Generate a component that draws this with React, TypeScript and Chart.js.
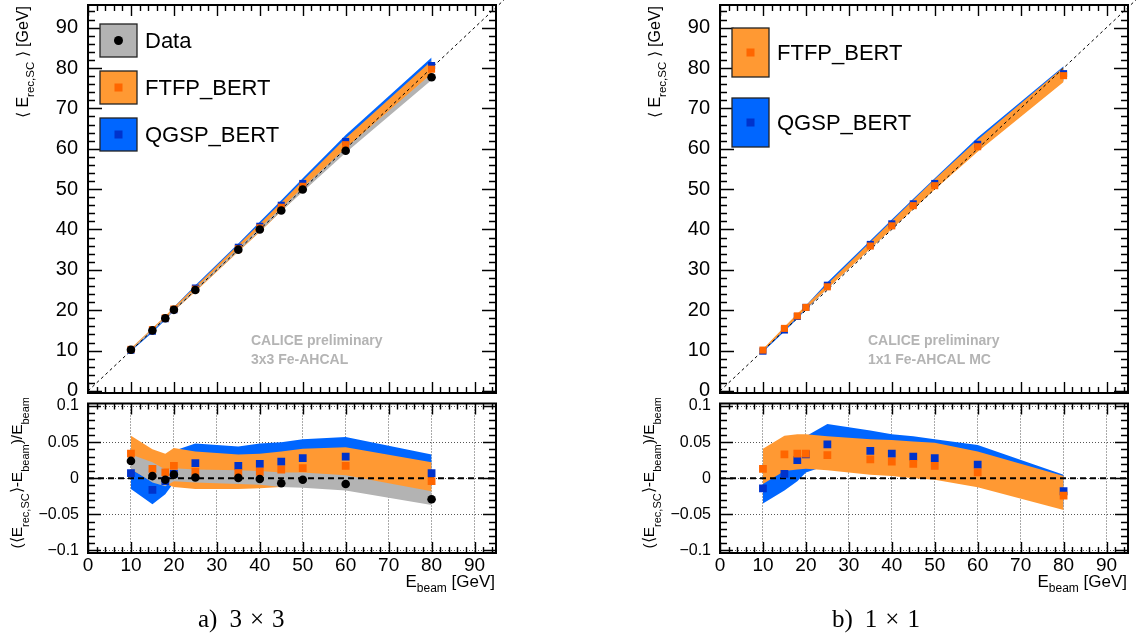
import React, { useEffect, useRef } from "react";
import { Chart, registerables } from "chart.js";
Chart.register(...registerables);

// ---------------- data ----------------
const beamEnergies = [10, 15, 18, 20, 25, 35, 40, 45, 50, 60, 80];

// a) 3x3 : mean reconstructed energy [GeV]
const data3Mean = [10.2, 15.0, 18.0, 20.1, 25.0, 35.0, 40.0, 44.7, 49.9, 59.5, 77.7];
const data3High = [10.33, 15.33, 18.2, 20.3, 25.3, 35.4, 40.4, 45.4, 50.4, 60.2, 78.6];
const data3Low = [10.13, 14.9, 17.8, 19.9, 24.85, 34.7, 39.6, 44.5, 49.35, 59.0, 77.0];
const ftfp3Mean = [10.3, 15.2, 18.1, 20.3, 25.2, 35.2, 40.4, 45.5, 50.7, 61.0, 79.7];
const ftfp3High = [10.6, 15.6, 18.6, 20.8, 25.9, 36.2, 41.4, 46.7, 52.1, 62.6, 81.8];
const ftfp3Low = [10.05, 14.9, 17.9, 19.8, 24.6, 34.5, 39.4, 44.5, 49.5, 59.5, 78.5];
const qgsp3Mean = [10.1, 14.8, 17.9, 20.1, 25.5, 35.6, 40.8, 46.0, 51.4, 61.8, 80.6];
const qgsp3High = [10.2, 15.15, 18.2, 20.8, 26.2, 36.5, 41.9, 47.25, 52.7, 63.4, 82.6];
const qgsp3Low = [9.85, 14.46, 17.6, 19.9, 24.75, 34.65, 39.7, 44.7, 49.8, 59.8, 79.0];

// a) 3x3 : relative deviation
const data3Ratio = [0.024, 0.003, -0.002, 0.005, 0.001, 0.0005, -0.001, -0.007, -0.002, -0.008, -0.029];
const data3RatioHigh = [0.033, 0.022, 0.012, 0.014, 0.012, 0.011, 0.010, 0.008, 0.008, 0.004, -0.018];
const data3RatioLow = [0.013, -0.006, -0.011, -0.004, -0.006, -0.008, -0.009, -0.012, -0.013, -0.017, -0.037];
const ftfp3Ratio = [0.034, 0.013, 0.008, 0.017, 0.009, 0.007, 0.009, 0.012, 0.014, 0.017, -0.004];
const ftfp3RatioHigh = [0.059, 0.040, 0.034, 0.042, 0.037, 0.033, 0.034, 0.037, 0.041, 0.043, 0.022];
const ftfp3RatioLow = [0.012, -0.004, -0.008, -0.012, -0.015, -0.015, -0.014, -0.012, -0.011, -0.009, -0.019];
const qgsp3Ratio = [0.007, -0.016, -0.004, 0.006, 0.021, 0.017, 0.020, 0.023, 0.028, 0.030, 0.007];
const qgsp3RatioHigh = [0.020, 0.010, 0.012, 0.038, 0.048, 0.044, 0.048, 0.050, 0.054, 0.057, 0.033];
const qgsp3RatioLow = [-0.015, -0.036, -0.022, -0.006, -0.010, -0.010, -0.008, -0.006, -0.004, -0.003, -0.012];

// b) 1x1 : mean reconstructed energy [GeV]
const ftfp1Mean = [10.13, 15.5, 18.6, 20.7, 25.8, 35.9, 40.9, 45.9, 50.85, 60.5, 78.1];
const ftfp1High = [10.41, 15.9, 19.1, 21.2, 26.45, 36.9, 42.1, 47.3, 52.45, 62.2, 80.2];
const ftfp1Low = [9.92, 15.15, 18.2, 20.3, 25.3, 35.2, 40.1, 45.0, 49.9, 59.25, 76.5];
const qgsp1Mean = [9.86, 15.1, 18.45, 20.7, 26.2, 36.3, 41.4, 46.35, 51.4, 61.1, 78.6];
const qgsp1High = [10.05, 15.45, 18.8, 21.15, 26.9, 37.3, 42.45, 47.6, 52.7, 62.8, 80.4];
const qgsp1Low = [9.65, 14.75, 17.9, 20.15, 25.45, 35.4, 40.35, 45.3, 50.15, 59.7, 76.8];

// b) 1x1 : relative deviation
const ftfp1Ratio = [0.013, 0.033, 0.034, 0.034, 0.032, 0.026, 0.023, 0.020, 0.017, 0.008, -0.024];
const ftfp1RatioHigh = [0.041, 0.059, 0.061, 0.061, 0.058, 0.054, 0.053, 0.051, 0.049, 0.037, 0.003];
const ftfp1RatioLow = [-0.008, 0.010, 0.012, 0.013, 0.011, 0.005, 0.003, 0.000, -0.002, -0.0125, -0.044];
const qgsp1Ratio = [-0.014, 0.006, 0.025, 0.033, 0.047, 0.038, 0.034, 0.030, 0.028, 0.019, -0.018];
const qgsp1RatioHigh = [0.005, 0.030, 0.045, 0.058, 0.075, 0.066, 0.061, 0.058, 0.054, 0.046, 0.005];
const qgsp1RatioLow = [-0.035, -0.017, -0.004, 0.008, 0.018, 0.012, 0.009, 0.006, 0.003, -0.005, -0.040];

// reference lines
const diagonalX = [0, 97]; // E_rec = E_beam
const zeroLineX = [0, 95];

// axes
const xRange = [0, 95];
const mainYRange = [-0.5, 95.6];
const ratioYRange = [-0.1035, 0.1035];
const xTickValues = [0, 10, 20, 30, 40, 50, 60, 70, 80, 90];
const xTickLabels = ["0", "10", "20", "30", "40", "50", "60", "70", "80", "90"];
const mainYTickValues = [0, 10, 20, 30, 40, 50, 60, 70, 80, 90];
const mainYTickLabels = ["0", "10", "20", "30", "40", "50", "60", "70", "80", "90"];
const ratioYTickValues = [-0.1, -0.05, 0, 0.05, 0.1];
const ratioYTickLabels = ["\u22120.1", "\u22120.05", "0", "0.05", "0.1"];

const legend3 = ["Data", "FTFP_BERT", "QGSP_BERT"];
const legend1 = ["FTFP_BERT", "QGSP_BERT"];

// ---------------- style ----------------
const FONT = "'Liberation Sans', Arial, Helvetica, sans-serif";
const SERIF = "'Liberation Serif', 'DejaVu Serif', serif";
const GRAY_BAND = "#b3b3b3";
const ORANGE_BAND = "#ff9933";
const ORANGE_MARK = "#ff6600";
const BLUE_BAND = "#0066ff";
const BLUE_MARK = "#0033cc";

const minorTicks = (a: number, b: number, step: number) => {
  const out: number[] = [];
  const n = Math.round((b - a) / step);
  for (let i = 0; i <= n; i++) out.push(+(a + i * step).toFixed(6));
  return out;
};

// ---------------- helpers ----------------
const pts = (ys: number[]) => beamEnergies.map((e, i) => ({ x: e, y: ys[i] }));

function band(high: number[], low: number[], color: string, order: number) {
  return [
    { data: pts(high), fill: "+1", backgroundColor: color, borderColor: "rgba(0,0,0,0)", borderWidth: 0, pointRadius: 0, order },
    { data: pts(low), fill: false, backgroundColor: color, borderColor: "rgba(0,0,0,0)", borderWidth: 0, pointRadius: 0, order },
  ];
}

function markers(ys: number[], color: string, style: string, radius: number, order: number) {
  return {
    data: pts(ys), showLine: false, fill: false, pointStyle: style, pointRadius: radius,
    pointBackgroundColor: color, pointBorderColor: color, pointBorderWidth: 0, order,
  };
}

type Seg = { t: string; sub?: boolean };
function drawRich(ctx: CanvasRenderingContext2D, segs: Seg[], x: number, y: number,
  o: { size: number; subSize: number; subDrop: number; align: "left" | "right"; rotate?: boolean; color?: string; weight?: string; family?: string }) {
  ctx.save();
  ctx.translate(x, y);
  if (o.rotate) ctx.rotate(-Math.PI / 2);
  ctx.fillStyle = o.color || "#000";
  ctx.textBaseline = "alphabetic";
  ctx.textAlign = "left";
  const fam = o.family || FONT;
  const f = (s: Seg) => `${o.weight || "normal"} ${s.sub ? o.subSize : o.size}px ${fam}`;
  let total = 0;
  const ws = segs.map((s) => { ctx.font = f(s); const w = ctx.measureText(s.t).width; total += w; return w; });
  let cx = o.align === "right" ? -total : 0;
  segs.forEach((s, i) => { ctx.font = f(s); ctx.fillText(s.t, cx, s.sub ? o.subDrop : 0); cx += ws[i]; });
  ctx.restore();
}

function framePlugin(yMinor: number[], yMajorLen: number, yMinorLen: number) {
  const xMinor = minorTicks(0, 94, 2);
  return {
    id: "rootFrame",
    afterDatasetsDraw(chart: any) {
      const { ctx, chartArea: a } = chart;
      const xs = chart.scales.x, ys = chart.scales.y;
      ctx.save();
      ctx.strokeStyle = "#000";
      ctx.lineWidth = 1.4;
      ctx.beginPath();
      const tx = (vals: number[], len: number) => vals.forEach((v) => {
        const p = Math.round(xs.getPixelForValue(v)) + 0.5;
        if (p < a.left - 1 || p > a.right + 1) return;
        ctx.moveTo(p, a.bottom); ctx.lineTo(p, a.bottom - len);
        ctx.moveTo(p, a.top); ctx.lineTo(p, a.top + len);
      });
      const ty = (vals: number[], len: number) => vals.forEach((v) => {
        const p = Math.round(ys.getPixelForValue(v)) + 0.5;
        if (p < a.top - 1 || p > a.bottom + 1) return;
        ctx.moveTo(a.left, p); ctx.lineTo(a.left + len, p);
        ctx.moveTo(a.right, p); ctx.lineTo(a.right - len, p);
      });
      tx(xTickValues, 11); tx(xMinor, 6);
      ty(chart.options.scales.y._major, yMajorLen); ty(yMinor, yMinorLen);
      ctx.stroke();
      ctx.lineWidth = 2;
      ctx.strokeRect(a.left, a.top, a.right - a.left, a.bottom - a.top);
      ctx.restore();
    },
  };
}

function overlay(draw: (ctx: CanvasRenderingContext2D) => void) {
  return { id: "overlay", afterDraw(chart: any) { draw(chart.ctx); } };
}

function xScale(display: boolean) {
  return {
    type: "linear", min: xRange[0], max: xRange[1], bounds: "data", display,
    afterBuildTicks: (s: any) => { s.ticks = xTickValues.map((v) => ({ value: v })); },
    afterFit: (s: any) => { s.height = display ? 86 : 0; s.paddingLeft = 0; s.paddingRight = 0; },
    ticks: { autoSkip: false, maxRotation: 0, minRotation: 0, padding: 1, color: "#000",
      font: { family: FONT, size: 19 }, callback: (_v: any, i: number) => xTickLabels[i] },
    grid: { display: true, drawTicks: false, color: "#555", lineWidth: 1 },
    border: { display: false, dash: [1, 2] },
  };
}

function yScale(kind: "main" | "ratio") {
  const vals = kind === "main" ? mainYTickValues : ratioYTickValues;
  const labels = kind === "main" ? mainYTickLabels : ratioYTickLabels;
  const range = kind === "main" ? mainYRange : ratioYRange;
  return {
    type: "linear", min: range[0], max: range[1], bounds: "data", _major: vals,
    afterBuildTicks: (s: any) => { s.ticks = vals.map((v) => ({ value: v })); },
    afterFit: (s: any) => { s.width = 88; s.paddingTop = 0; s.paddingBottom = 0; },
    ticks: { autoSkip: false, padding: kind === "main" ? 10 : 9, color: "#000",
      font: { family: FONT, size: kind === "main" ? 20 : 16 }, callback: (_v: any, i: number) => labels[i] },
    grid: { display: kind === "ratio", drawTicks: false, color: "#555", lineWidth: 1 },
    border: { display: false, dash: [1, 2] },
  };
}

const baseOptions = (padRight: number, padTop: number, scales: any) => ({
  responsive: false, animation: false, events: [],
  layout: { padding: { left: 0, top: padTop, right: padRight, bottom: 0 } },
  plugins: { legend: { display: false }, tooltip: { enabled: false } },
  scales,
});

// ---------------- text drawers ----------------
function drawMainTitle(ctx: CanvasRenderingContext2D) {
  drawRich(ctx, [{ t: "\u27E8 E" }, { t: "rec,SC", sub: true }, { t: " \u27E9 [GeV]" }], 28, 6,
    { size: 16, subSize: 11.5, subDrop: 6, align: "right", rotate: true });
}
function drawRatioTitles(ctx: CanvasRenderingContext2D) {
  drawRich(ctx, [{ t: "(\u27E8E" }, { t: "rec,SC", sub: true }, { t: "\u27E9-E" }, { t: "beam", sub: true },
    { t: ")/E" }, { t: "beam", sub: true }], 22, -1,
    { size: 15.5, subSize: 11, subDrop: 7, align: "right", rotate: true });
  drawRich(ctx, [{ t: "E" }, { t: "beam", sub: true }, { t: " [GeV]" }], 495, 189,
    { size: 17, subSize: 12, subDrop: 5, align: "right" });
}
function drawCaption(ctx: CanvasRenderingContext2D, x: number, a: string, n: string) {
  ctx.save();
  ctx.fillStyle = "#000";
  ctx.textBaseline = "alphabetic";
  ctx.font = `25px ${SERIF}`;
  let cx = x;
  const put = (s: string, gap: number) => { ctx.fillText(s, cx, 229); cx += ctx.measureText(s).width + gap; };
  put(a, 12); put(n, 8); put("\u00D7", 8); put(n, 0);
  ctx.restore();
}
function drawCalice(ctx: CanvasRenderingContext2D, x: number, line2: string) {
  ctx.save();
  ctx.fillStyle = "#b4b4b4";
  ctx.font = `bold 14px ${FONT}`;
  ctx.textBaseline = "alphabetic";
  ctx.fillText("CALICE preliminary", x, 345);
  ctx.fillText(line2, x, 364);
  ctx.restore();
}
type LegendEntry = { label: string; fill: string; mark: string; markColor: string; y0: number; y1: number };
function drawLegend(ctx: CanvasRenderingContext2D, entries: LegendEntry[]) {
  ctx.save();
  entries.forEach((e) => {
    ctx.fillStyle = e.fill;
    ctx.fillRect(100, e.y0, 37, e.y1 - e.y0);
    ctx.strokeStyle = "#222";
    ctx.lineWidth = 1.3;
    ctx.strokeRect(100, e.y0, 37, e.y1 - e.y0);
    const cy = (e.y0 + e.y1) / 2;
    ctx.fillStyle = e.markColor;
    if (e.mark === "circle") { ctx.beginPath(); ctx.arc(118.5, cy, 4.5, 0, Math.PI * 2); ctx.fill(); }
    else ctx.fillRect(114.5, cy - 4, 8, 8);
    ctx.fillStyle = "#000";
    ctx.font = `22px ${FONT}`;
    ctx.textBaseline = "middle";
    ctx.fillText(e.label, 145, cy + 1);
  });
  ctx.restore();
}

// ---------------- configs ----------------
const ratioMinor = minorTicks(-0.1, 0.1, 0.01);
const mainMinor = minorTicks(0, 94, 2);

function main3Config() {
  return {
    type: "line",
    data: {
      datasets: [
        ...band(qgsp3High, qgsp3Low, BLUE_BAND, 10),
        ...band(ftfp3High, ftfp3Low, ORANGE_BAND, 9),
        ...band(data3High, data3Low, GRAY_BAND, 8),
        { data: diagonalX.map((v) => ({ x: v, y: v })), borderColor: "#000", borderWidth: 1, borderDash: [3, 3], pointRadius: 0, fill: false, order: 5, clip: false },
        markers(qgsp3Mean, BLUE_MARK, "rect", 5, 3),
        markers(ftfp3Mean, ORANGE_MARK, "rect", 5, 2),
        markers(data3Mean, "#000", "circle", 4.3, 1),
      ],
    },
    options: baseOptions(14, 5, { x: xScale(false), y: yScale("main") }),
    plugins: [
      framePlugin(mainMinor, 14, 7),
      overlay((ctx) => {
        drawMainTitle(ctx);
        drawLegend(ctx, [
          { label: legend3[0], fill: GRAY_BAND, mark: "circle", markColor: "#000", y0: 24, y1: 57 },
          { label: legend3[1], fill: ORANGE_BAND, mark: "rect", markColor: ORANGE_MARK, y0: 71, y1: 104 },
          { label: legend3[2], fill: BLUE_BAND, mark: "rect", markColor: BLUE_MARK, y0: 118, y1: 151 },
        ]);
        drawCalice(ctx, 251, "3x3 Fe-AHCAL");
      }),
    ],
  };
}

function ratio3Config() {
  return {
    type: "line",
    data: {
      datasets: [
        ...band(qgsp3RatioHigh, qgsp3RatioLow, BLUE_BAND, 10),
        ...band(ftfp3RatioHigh, ftfp3RatioLow, ORANGE_BAND, 9),
        ...band(data3RatioHigh, data3RatioLow, GRAY_BAND, 8),
        { data: zeroLineX.map((v) => ({ x: v, y: 0 })), borderColor: "#000", borderWidth: 2, borderDash: [6, 4], pointRadius: 0, fill: false, order: 5 },
        markers(qgsp3Ratio, BLUE_MARK, "rect", 5.5, 3),
        markers(ftfp3Ratio, ORANGE_MARK, "rect", 5.5, 2),
        markers(data3Ratio, "#000", "circle", 4.3, 1),
      ],
    },
    options: baseOptions(14, 0, { x: xScale(true), y: yScale("ratio") }),
    plugins: [
      framePlugin(ratioMinor, 13, 7),
      overlay((ctx) => { drawRatioTitles(ctx); drawCaption(ctx, 198, "a)", "3"); }),
    ],
  };
}

function main1Config() {
  return {
    type: "line",
    data: {
      datasets: [
        ...band(qgsp1High, qgsp1Low, BLUE_BAND, 10),
        ...band(ftfp1High, ftfp1Low, ORANGE_BAND, 9),
        { data: diagonalX.map((v) => ({ x: v, y: v })), borderColor: "#000", borderWidth: 1, borderDash: [3, 3], pointRadius: 0, fill: false, order: 5, clip: false },
        markers(qgsp1Mean, BLUE_MARK, "rect", 5, 3),
        markers(ftfp1Mean, ORANGE_MARK, "rect", 5, 2),
      ],
    },
    options: baseOptions(12, 5, { x: xScale(false), y: yScale("main") }),
    plugins: [
      framePlugin(mainMinor, 14, 7),
      overlay((ctx) => {
        drawMainTitle(ctx);
        drawLegend(ctx, [
          { label: legend1[0], fill: ORANGE_BAND, mark: "rect", markColor: ORANGE_MARK, y0: 28, y1: 77 },
          { label: legend1[1], fill: BLUE_BAND, mark: "rect", markColor: BLUE_MARK, y0: 98, y1: 147 },
        ]);
        drawCalice(ctx, 236, "1x1 Fe-AHCAL MC");
      }),
    ],
  };
}

function ratio1Config() {
  return {
    type: "line",
    data: {
      datasets: [
        ...band(qgsp1RatioHigh, qgsp1RatioLow, BLUE_BAND, 10),
        ...band(ftfp1RatioHigh, ftfp1RatioLow, ORANGE_BAND, 9),
        { data: zeroLineX.map((v) => ({ x: v, y: 0 })), borderColor: "#000", borderWidth: 2, borderDash: [6, 4], pointRadius: 0, fill: false, order: 5 },
        markers(qgsp1Ratio, BLUE_MARK, "rect", 5.5, 3),
        markers(ftfp1Ratio, ORANGE_MARK, "rect", 5.5, 2),
      ],
    },
    options: baseOptions(12, 0, { x: xScale(true), y: yScale("ratio") }),
    plugins: [
      framePlugin(ratioMinor, 13, 7),
      overlay((ctx) => { drawRatioTitles(ctx); drawCaption(ctx, 200, "b)", "1"); }),
    ],
  };
}

// ---------------- components ----------------
function ChartCanvas(props: { left: number; top: number; width: number; height: number; build: () => any }) {
  const ref = useRef<HTMLCanvasElement>(null);
  useEffect(() => {
    const chart = new Chart(ref.current as HTMLCanvasElement, props.build());
    return () => chart.destroy();
  }, []);
  return (
    <canvas ref={ref} width={props.width} height={props.height}
      style={{ position: "absolute", left: props.left, top: props.top, width: props.width, height: props.height }} />
  );
}

export default function App() {
  return (
    <div style={{ position: "absolute", left: 0, top: 0, width: 1140, height: 639, background: "#fff", overflow: "hidden" }}>
      <ChartCanvas left={0} top={398} width={510} height={241} build={ratio3Config} />
      <ChartCanvas left={0} top={0} width={510} height={398} build={main3Config} />
      <ChartCanvas left={632} top={398} width={508} height={241} build={ratio1Config} />
      <ChartCanvas left={632} top={0} width={508} height={398} build={main1Config} />
    </div>
  );
}
